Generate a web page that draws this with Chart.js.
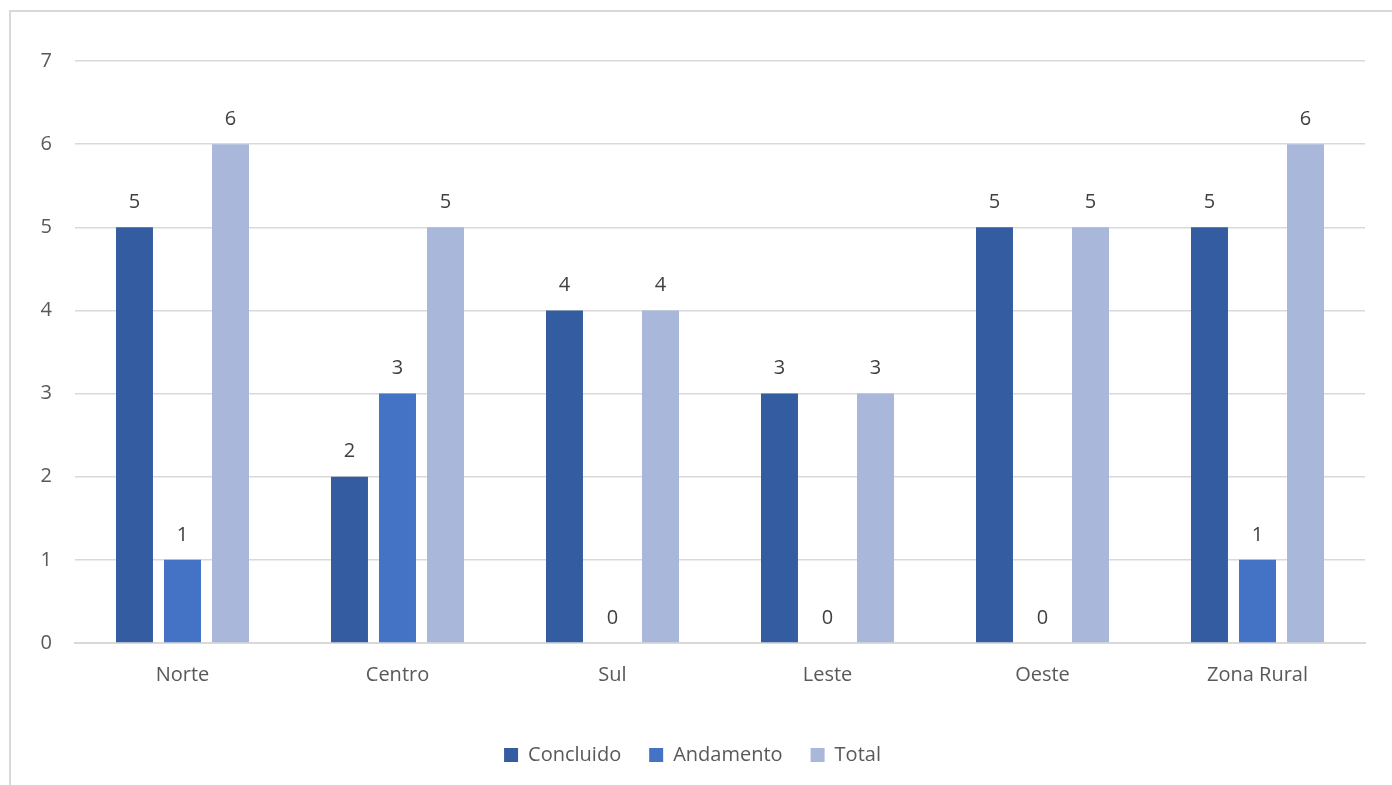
<!DOCTYPE html>
<html>
<head>
<meta charset="utf-8">
<script src="https://cdn.jsdelivr.net/npm/chart.js@4/dist/chart.umd.min.js"></script>
<style>
  html, body { margin: 0; padding: 0; background: #fff; overflow: hidden; }
  #frame { position: absolute; left: 9px; top: 10px; width: 1400px; height: 800px; border: 2px solid #d9d9d9; }
  #wrap { position: absolute; left: 0; top: 0; width: 1392px; height: 785px; }
</style>
</head>
<body>
<div id="frame"></div>
<div id="wrap"><canvas id="myChart"></canvas></div>
<script>
// categories and values
const regions = ['Norte', 'Centro', 'Sul', 'Leste', 'Oeste', 'Zona Rural'];
const concluido = [5, 2, 4, 3, 5, 5];
const andamento = [1, 3, 0, 0, 0, 1];
const total = [6, 5, 4, 3, 5, 6];
const yTicks = [0, 1, 2, 3, 4, 5, 6, 7];

const FONT = '"Open Sans", "Noto Sans", sans-serif';
const TEXT = '#595959';

//draws the number above every bar, zeros too
const valueLabels = {
  id: 'valueLabels',
  afterDatasetsDraw(chart) {
    const ctx = chart.ctx;
    ctx.save();
    ctx.font = '20px ' + FONT;
    ctx.fillStyle = '#404040';
    ctx.textAlign = 'center';
    ctx.textBaseline = 'middle';
    chart.data.datasets.forEach((ds, i) => {
      chart.getDatasetMeta(i).data.forEach((bar, j) => {
        ctx.fillText(ds.data[j], bar.x, bar.y - 25);
      });
    });
    ctx.restore();
  }
};

const data = {
  labels: regions,
  datasets: [
    { label: 'Concluido', data: concluido, backgroundColor: '#345ca0' },
    { label: 'Andamento', data: andamento, backgroundColor: '#4472c4' },
    { label: 'Total', data: total, backgroundColor: '#a9b7da' }
  ]
};

const config = {
  type: 'bar',
  data: data,
  options: {
    responsive: true,
    maintainAspectRatio: false,
    animation: false,
    categoryPercentage: 0.67,
    barPercentage: 0.77,
    layout: { padding: { left: 20, right: 27, top: 61, bottom: 10 } },
    plugins: {
      tooltip: { enabled: false },
      legend: {
        position: 'bottom',
        labels: {
          boxWidth: 14,
          boxHeight: 14,
          padding: 28,
          color: TEXT,
          font: { family: FONT, size: 20 }
        }
      }
    },
    scales: {
      x: {
        grid: { display: false, drawTicks: false },
        border: { display: true, color: '#d9d9d9', width: 2 },
        ticks: { color: TEXT, font: { family: FONT, size: 20 }, padding: 20 },
        afterFit(scale) { scale.height = 74; }
      },
      y: {
        min: 0,
        max: 7,
        afterBuildTicks(scale) { scale.ticks = yTicks.map(v => ({ value: v })); },
        grid: { color: '#d9d9d9', lineWidth: 1.5, drawTicks: false },
        border: { display: false },
        ticks: { color: TEXT, font: { family: FONT, size: 20 }, padding: 23 },
        afterFit(scale) { scale.width = 55; }
      }
    }
  },
  plugins: [valueLabels]
};

const myChart = new Chart(document.getElementById('myChart'), config);
</script>
</body>
</html>
